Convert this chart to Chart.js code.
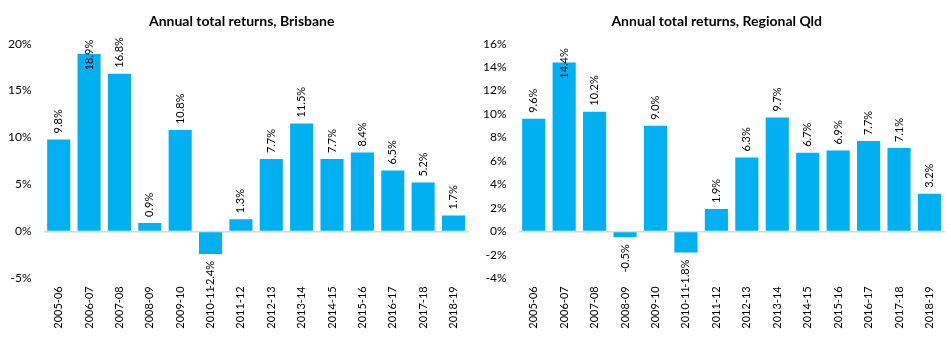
<!DOCTYPE html>
<html><head><meta charset="utf-8">
<script src="https://cdn.jsdelivr.net/npm/chart.js@4/dist/chart.umd.min.js"></script>
<style>
body{margin:0;background:#fff;width:951px;height:349px;overflow:hidden;position:relative}
canvas{position:absolute;top:0}
</style></head><body>
<canvas id="c1" width="475" height="349" style="left:0"></canvas>
<canvas id="c2" width="476" height="349" style="left:475px"></canvas>
<script>
const categories = ["2005-06","2006-07","2007-08","2008-09","2009-10","2010-11","2011-12","2012-13","2013-14","2014-15","2015-16","2016-17","2017-18","2018-19"];
const brisbaneReturns = [9.8, 18.9, 16.8, 0.9, 10.8, -2.4, 1.3, 7.7, 11.5, 7.7, 8.4, 6.5, 5.2, 1.7];
const regionalReturns = [9.6, 14.4, 10.2, -0.5, 9.0, -1.8, 1.9, 6.3, 9.7, 6.7, 6.9, 7.7, 7.1, 3.2];
const brisbaneAxis = [-5, 20, 5];   // min, max, step
const regionalAxis = [-4, 16, 2];
const titles = ["Annual total returns, Brisbane", "Annual total returns, Regional Qld"];

const BAR = '#00B0F0';

const titlePlugin = {
  id: 'ctitle',
  afterDraw(chart, args, opts) {
    const ctx = chart.ctx;
    ctx.save();
    ctx.font = 'bold 14px Lato';
    ctx.fillStyle = '#000';
    ctx.textAlign = 'center';
    ctx.textBaseline = 'middle';
    ctx.fillText(opts.text, 241.7, 21);
    ctx.restore();
  }
};

const valueLabels = {
  id: 'valueLabels',
  afterDatasetsDraw(chart) {
    const {ctx, chartArea} = chart;
    const meta = chart.getDatasetMeta(0);
    const vals = chart.data.datasets[0].data;
    ctx.save();
    ctx.font = '11px Lato';
    ctx.fillStyle = '#000';
    ctx.textBaseline = 'middle';
    meta.data.forEach((bar, i) => {
      const v = vals[i];
      const txt = v.toFixed(1) + '%';
      const w = ctx.measureText(txt).width;
      let y, align;
      if (v >= 0) {
        y = bar.y - 6; align = 'left';
        if (y - w < chartArea.top - 9) { y = bar.y + w / 2 + 1; }
      } else {
        y = bar.y + 7; align = 'right';
      }
      ctx.save();
      ctx.translate(bar.x, y);
      ctx.rotate(-Math.PI / 2);
      ctx.textAlign = align;
      ctx.fillText(txt, 0, 0);
      ctx.restore();
    });
    ctx.restore();
  }
};

function makeChart(id, title, values, axis) {
  return new Chart(document.getElementById(id), {
    type: 'bar',
    data: {
      labels: categories,
      datasets: [{
        data: values,
        backgroundColor: BAR,
        borderWidth: 0,
        barPercentage: 0.76,
        categoryPercentage: 1.0
      }]
    },
    plugins: [titlePlugin, valueLabels],
    options: {
      responsive: false,
      animation: false,
      layout: {padding: {top: 43.7, right: 6.3, bottom: 0, left: 0}},
      plugins: {
        legend: {display: false},
        tooltip: {enabled: false},
        title: {display: false},
        ctitle: {text: title}
      },
      scales: {
        x: {
          grid: {display: false, drawTicks: false},
          border: {display: false},
          ticks: {minRotation: 90, maxRotation: 90, autoSkip: false, padding: 8, color: '#000', font: {family: 'Lato', size: 11}},
          afterFit(s) { s.height = 70.7; }
        },
        y: {
          min: axis[0], max: axis[1],
          grid: {
            color: c => (c.tick && c.tick.value === 0) ? '#d9d9d9' : 'rgba(0,0,0,0)',
            lineWidth: 1.5, drawTicks: false
          },
          border: {display: false},
          ticks: {stepSize: axis[2], padding: 12, color: '#000', font: {family: 'Lato', size: 12}, callback: v => v + '%'},
          afterFit(s) { s.width = 43.5; }
        }
      }
    }
  });
}

makeChart('c1', titles[0], brisbaneReturns, brisbaneAxis);
makeChart('c2', titles[1], regionalReturns, regionalAxis);
</script>
</body></html>
